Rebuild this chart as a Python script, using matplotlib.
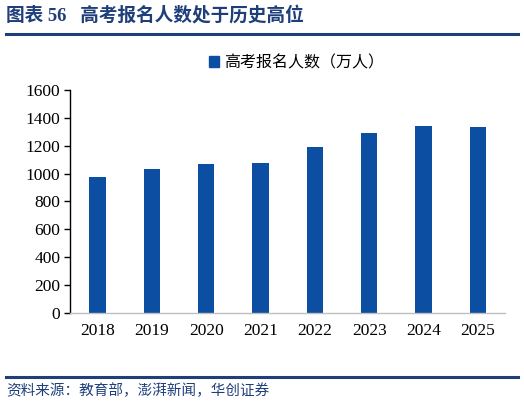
import matplotlib
matplotlib.use("Agg")
import matplotlib.pyplot as plt
from matplotlib.lines import Line2D
from matplotlib.patches import Patch

years = ["2018", "2019", "2020", "2021", "2022", "2023", "2024", "2025"]
applicants = [975, 1031, 1071, 1078, 1193, 1291, 1342, 1335]
yticks = [0, 200, 400, 600, 800, 1000, 1200, 1400, 1600]

cjk = ["Noto Sans CJK SC", "DejaVu Sans"]
serif = ["Liberation Serif", "DejaVu Serif"]
mixed = ["Liberation Serif", "Noto Sans CJK SC"]
navy = "#1F3F7A"
bar_color = "#0B4EA2"

fig = plt.figure(figsize=(5.24, 4.09), dpi=100)
ax = fig.add_axes([0.134, 0.235, 0.83, 0.545])

x = range(len(years))
ax.bar(x, applicants, width=0.3, color=bar_color)
ax.set_xlim(-0.5, len(years) - 0.5)
ax.set_ylim(0, 1600)
ax.set_yticks(yticks)
ax.set_xticks(list(x))
ax.set_xticklabels(years)
for label in ax.get_xticklabels() + ax.get_yticklabels():
    label.set_family(serif)
    label.set_fontsize(12.5)
ax.tick_params(axis="x", length=0, pad=7)
ax.tick_params(axis="y", direction="out", length=4, width=1, pad=3)
ax.spines[["top", "right"]].set_visible(False)
ax.spines["left"].set_color("black")
ax.spines["left"].set_linewidth(1.0)
ax.spines["bottom"].set_color("#BFBFBF")
ax.spines["bottom"].set_linewidth(1.0)

ax.legend(handles=[Patch(color=bar_color)], labels=["高考报名人数（万人）"],
          loc="lower center", bbox_to_anchor=(0.52, 1.02), frameon=False,
          prop={"family": cjk, "size": 11.5}, handlelength=0.6, handleheight=0.6,
          handletextpad=0.3)

fig.text(0.012, 0.962, "图表 56   高考报名人数处于历史高位", fontsize=13.4, fontweight="bold",
         color=navy, family=mixed, va="center")
fig.add_artist(Line2D([0.012, 0.988], [0.917, 0.917], color=navy, lw=2.2))
fig.add_artist(Line2D([0.012, 0.988], [0.078, 0.078], color=navy, lw=2.2))
fig.text(0.012, 0.044, "资料来源：教育部，澎湃新闻，华创证券", fontsize=10.5, style="italic",
         color=navy, family=cjk, va="center")

fig.savefig("out.png", dpi=100, facecolor="white")
